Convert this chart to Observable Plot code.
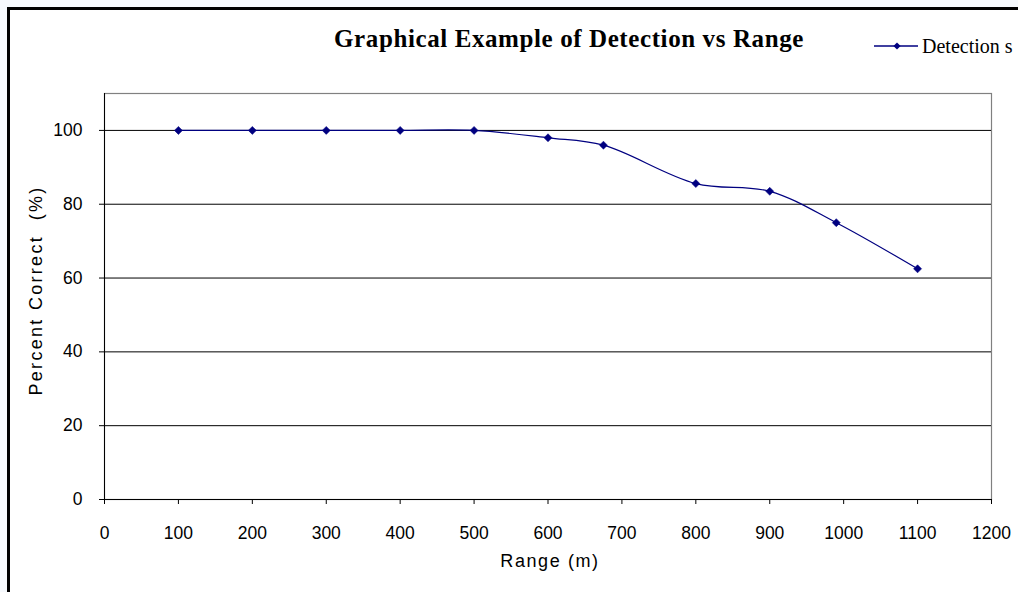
<!DOCTYPE html>
<html>
<head>
<meta charset="utf-8">
<script src="https://cdn.jsdelivr.net/npm/d3@7"></script>
<script src="https://cdn.jsdelivr.net/npm/@observablehq/plot@0.6"></script>
<style>
  body { margin: 0; background: #f6f9fd; width: 1018px; height: 592px; overflow: hidden; position: relative; }
  #frame { position: absolute; left: 7px; top: 7px; width: 1020px; height: 600px;
           border-top: 3px solid #000; border-left: 3px solid #000; background: #fff; }
  #header { position: absolute; left: 0; top: 0; }
  #chart { position: absolute; left: 10px; top: 80px; }
</style>
</head>
<body>
<div id="frame"></div>
<div id="header"></div>
<div id="chart"></div>
<script>
// ---- data ----
const title = "Graphical Example of Detection vs Range";
const seriesName = "Detection s";
const xLabel = "Range (m)";
const yLabel = "Percent Correct  (%)";
const ranges = [100, 200, 300, 400, 500, 600, 675, 800, 900, 990, 1100];
const detections = [100, 100, 100, 100, 100, 98, 96, 85.6, 83.5, 75, 62.5];
const xTicks = [0, 100, 200, 300, 400, 500, 600, 700, 800, 900, 1000, 1100, 1200];
const yTicks = [0, 20, 40, 60, 80, 100];

const data = ranges.map((r, i) => ({range: r, pct: detections[i]}));
const navy = "#000080";
const sans = "'Liberation Sans', Arial, sans-serif";
const serif = "'Liberation Serif', 'Times New Roman', serif";

// ---- header: title + legend ----
const hdr = d3.select("#header").append("svg").attr("width", 1018).attr("height", 80);
hdr.append("text").attr("x", 569).attr("y", 47).attr("text-anchor", "middle")
  .attr("font-family", serif).attr("font-weight", "bold").attr("font-size", 25)
  .attr("letter-spacing", "0.6px").text(title);
hdr.append("line").attr("x1", 874).attr("x2", 918).attr("y1", 46).attr("y2", 46)
  .attr("stroke", navy).attr("stroke-width", 1.5);
hdr.append("path").attr("d", d3.symbol(d3.symbolSquare, 26)()).attr("transform", "translate(897,46) rotate(45)").attr("fill", navy);
hdr.append("text").attr("x", 922).attr("y", 53).attr("font-family", serif).attr("font-size", 20)
  .attr("xml:space", "preserve").text(seriesName);

// ---- chart ----
const chart = Plot.plot({
  width: 1008,
  height: 512,
  marginLeft: 94,
  marginRight: 27,
  marginTop: 13,
  marginBottom: 93,
  style: {background: "transparent", fontFamily: sans, color: "#000", whiteSpace: "pre"},
  x: {domain: [0, 1200]},
  y: {domain: [0, 110]},
  marks: [
    Plot.frame({stroke: "#808080", strokeWidth: 1.2}),
    Plot.gridY(yTicks.filter(d => d > 0), {stroke: "#000", strokeOpacity: 1, strokeWidth: 1}),
    Plot.ruleY([0], {stroke: "#000"}),
    Plot.ruleX([0], {stroke: "#000"}),
    Plot.axisX(xTicks, {tickSize: 5, tickPadding: 22, fontSize: 17.5, stroke: "#000", fill: "#000", label: null, tickFormat: d => String(d)}),
    Plot.axisY(yTicks, {tickSize: 5, tickPadding: 17, fontSize: 17.5, stroke: "#000", fill: "#000", label: null, tickFormat: d => String(d)}),
    Plot.line(data, {x: "range", y: "pct", stroke: navy, strokeWidth: 1.2, curve: "catmull-rom"}),
    Plot.dot(data, {x: "range", y: "pct", symbol: "square", rotate: 45, r: 3.2, fill: navy, stroke: navy, strokeWidth: 0.5}),
    Plot.text([xLabel], {frameAnchor: "bottom", textAnchor: "middle", dx: 2, dy: 67, fontSize: 18, fill: "#000"}),
    Plot.text([yLabel], {frameAnchor: "left", textAnchor: "middle", rotate: -90, dx: -68, dy: -6, fontSize: 18, fill: "#000"})
  ]
});
document.getElementById("chart").appendChild(chart);

// widen the axis-title lettering like the reference's GDI rendering
d3.select(chart).selectAll("text").filter(function() { return this.textContent === xLabel; })
  .attr("letter-spacing", "1.6px");
d3.select(chart).selectAll("text").filter(function() { return this.textContent === yLabel; })
  .attr("letter-spacing", "2.3px");
</script>
</body>
</html>
